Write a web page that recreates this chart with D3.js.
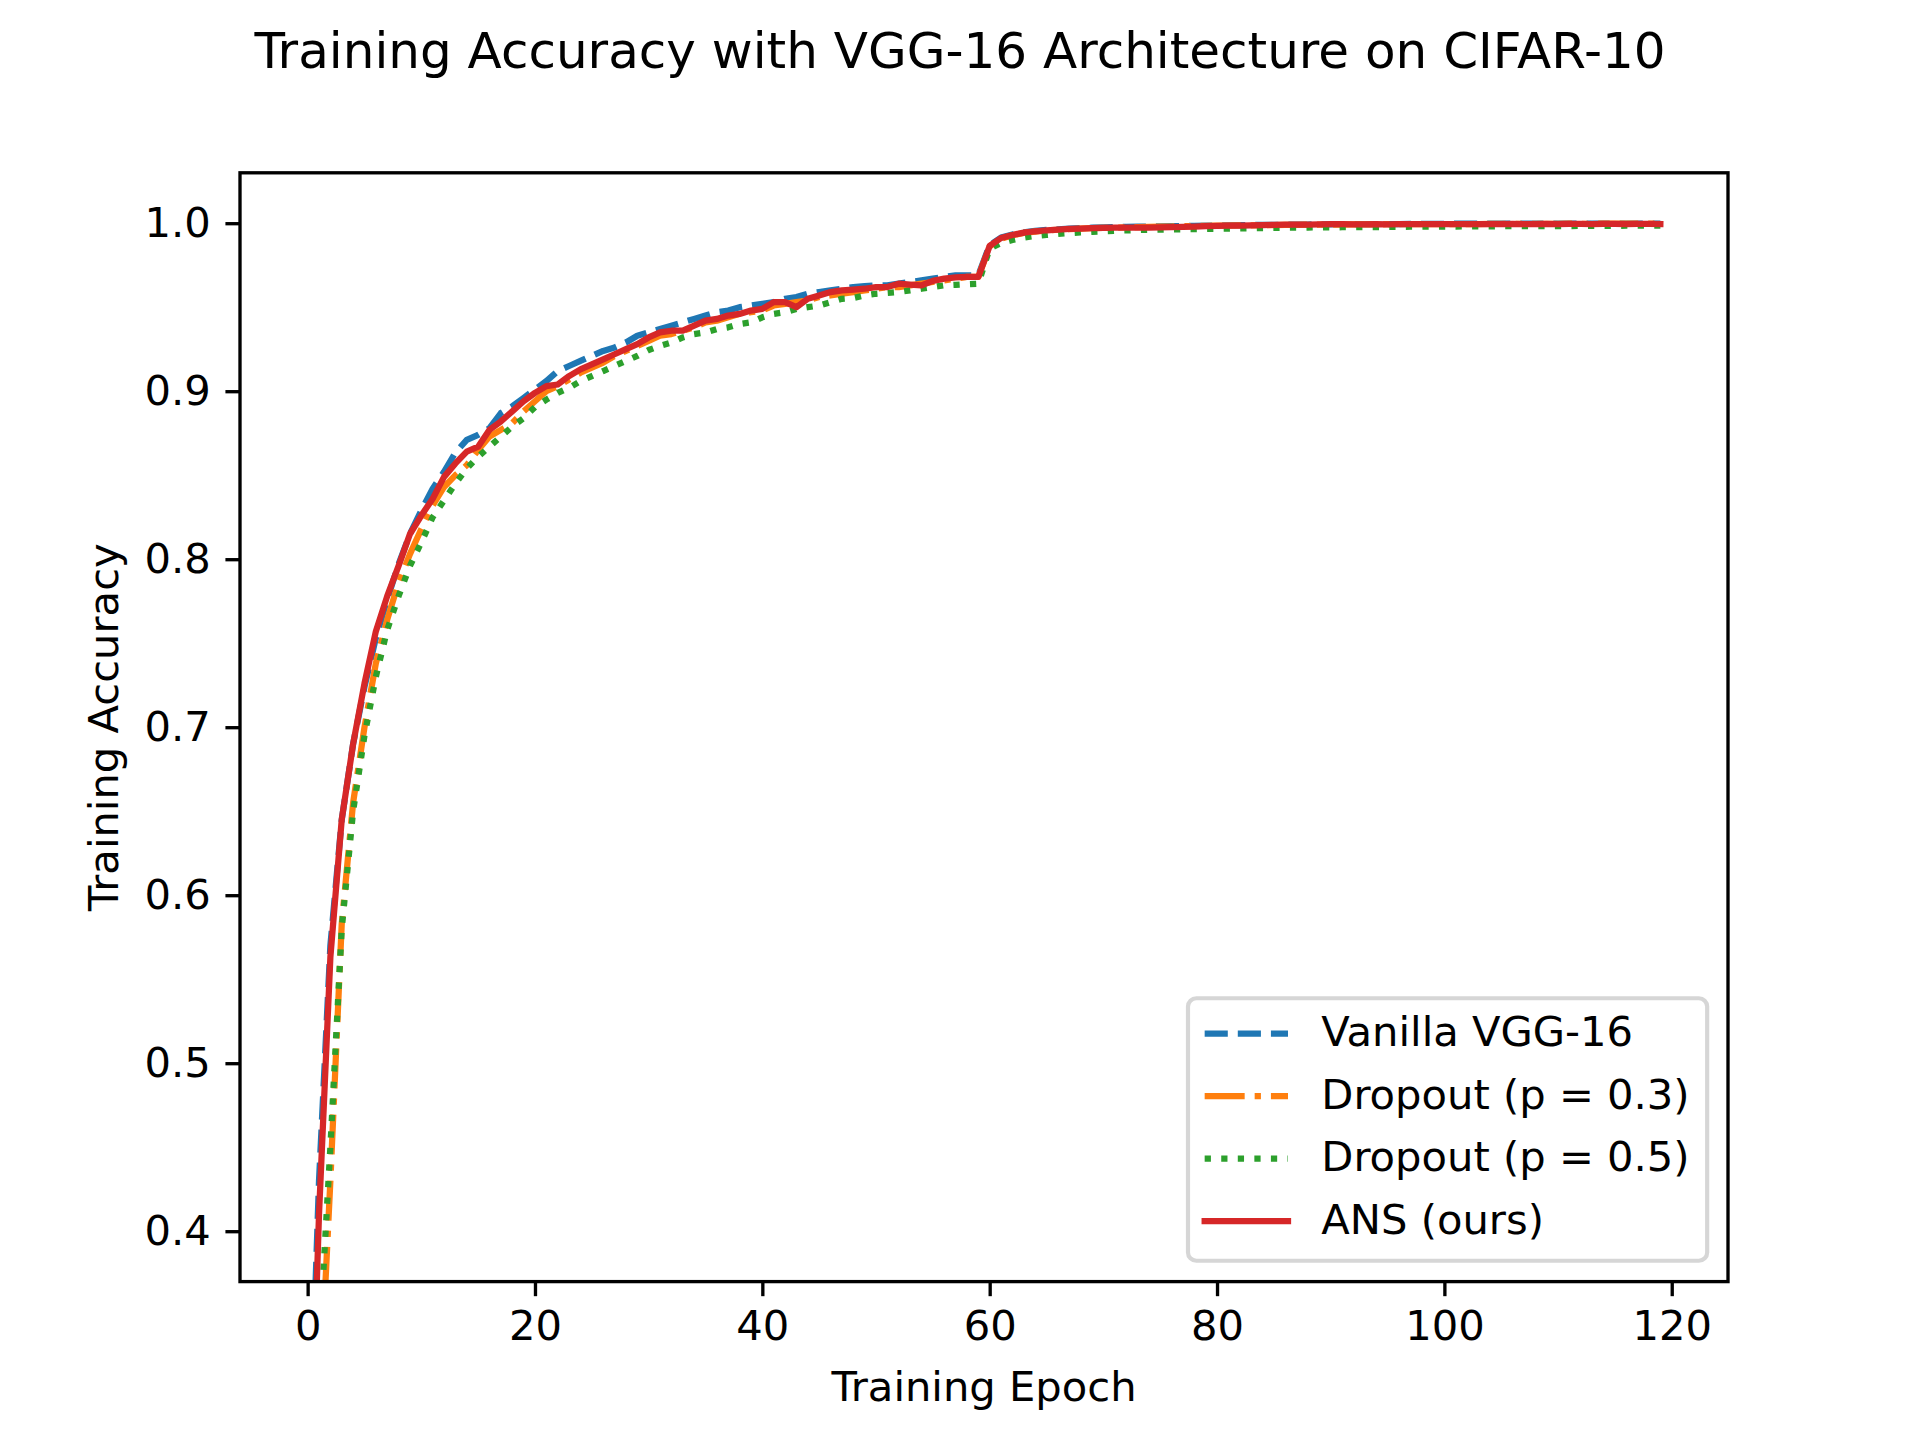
<!DOCTYPE html>
<html>
	<head>
		<title>Training Accuracy</title>
		<style>
			body, html { margin: 0; padding: 0; background: #fff; }
			text { font-family: "DejaVu Sans", sans-serif; }
		</style>
	</head>
	<body>

		<svg id="svg" width="1920" height="1440"></svg>

		<script src="https://d3js.org/d3.v7.min.js"></script>
		<script>
			// Training accuracy per epoch (epochs 0..119)
			const epochs = d3.range(0, 120)

			const vanilla = [
				0.230, 0.430, 0.570, 0.645, 0.690, 0.724, 0.753, 0.776, 0.797, 0.815,
				0.829, 0.842, 0.852, 0.8635, 0.871, 0.874, 0.878, 0.887, 0.891, 0.896,
				0.901, 0.906, 0.912, 0.915, 0.918, 0.921, 0.924, 0.926, 0.929, 0.933,
				0.935, 0.937, 0.939, 0.941, 0.943, 0.945, 0.947, 0.948, 0.950, 0.951,
				0.952, 0.953, 0.955, 0.956, 0.958, 0.959, 0.960, 0.961, 0.962, 0.9625,
				0.963, 0.963, 0.964, 0.965, 0.966, 0.967, 0.968, 0.969, 0.969, 0.969,
				0.987, 0.9915, 0.9933, 0.9946, 0.9955, 0.9960, 0.9964, 0.9968, 0.9971, 0.9973,
				0.9975, 0.9977, 0.9978, 0.9979, 0.9980, 0.9981, 0.9982, 0.9983, 0.9984, 0.9985,
				0.9986, 0.9987, 0.9988, 0.9989, 0.9990, 0.9990, 0.9991, 0.9992, 0.9992, 0.9993,
				0.9993, 0.9994, 0.9994, 0.9994, 0.9995, 0.9995, 0.9995, 0.9996, 0.9996, 0.9996,
				0.9996, 0.9997, 0.9997, 0.9997, 0.9997, 0.9997, 0.9997, 0.9998, 0.9998, 0.9997,
				0.9998, 0.9998, 0.9998, 0.9998, 0.9998, 0.9998, 0.9998, 0.9998, 0.9998, 0.9998
			]

			const dropout03 = [
				0.170, 0.290, 0.430, 0.583, 0.655, 0.700, 0.738, 0.764, 0.786, 0.803,
				0.818, 0.832, 0.843, 0.850, 0.856, 0.865, 0.873, 0.877, 0.881, 0.888,
				0.894, 0.900, 0.903, 0.907, 0.911, 0.914, 0.917, 0.921, 0.924, 0.927,
				0.930, 0.933, 0.934, 0.936, 0.938, 0.941, 0.942, 0.944, 0.946, 0.947,
				0.948, 0.951, 0.952, 0.953, 0.954, 0.956, 0.957, 0.958, 0.959, 0.960,
				0.961, 0.962, 0.962, 0.963, 0.964, 0.965, 0.966, 0.967, 0.968, 0.968,
				0.9862, 0.9908, 0.9928, 0.9942, 0.9950, 0.9956, 0.9961, 0.9964, 0.9967, 0.9970,
				0.9972, 0.9974, 0.9975, 0.9977, 0.9978, 0.9979, 0.9980, 0.9982, 0.9983, 0.9984,
				0.9985, 0.9986, 0.9987, 0.9987, 0.9988, 0.9989, 0.9990, 0.9990, 0.9991, 0.9991,
				0.9992, 0.9992, 0.9993, 0.9993, 0.9993, 0.9994, 0.9994, 0.9994, 0.9994, 0.9995,
				0.9995, 0.9995, 0.9995, 0.9995, 0.9996, 0.9996, 0.9996, 0.9996, 0.9996, 0.9996,
				0.9996, 0.9997, 0.9996, 0.9997, 0.9997, 0.9997, 0.9997, 0.9997, 0.9997, 0.9997
			]

			const dropout05 = [
				0.180, 0.330, 0.450, 0.580, 0.650, 0.695, 0.730, 0.758, 0.778, 0.796,
				0.810, 0.825, 0.835, 0.845, 0.854, 0.861, 0.867, 0.873, 0.879, 0.884,
				0.8905, 0.895, 0.899, 0.902, 0.906, 0.909, 0.912, 0.915, 0.918, 0.921,
				0.9245, 0.927, 0.929, 0.932, 0.934, 0.935, 0.937, 0.938, 0.940, 0.941,
				0.944, 0.946, 0.947, 0.949, 0.950, 0.951, 0.953, 0.955, 0.9555, 0.957,
				0.958, 0.9585, 0.959, 0.960, 0.961, 0.962, 0.963, 0.9633, 0.9637, 0.964,
				0.9850, 0.9882, 0.9900, 0.9914, 0.9924, 0.9930, 0.9936, 0.9941, 0.9945, 0.9949,
				0.9952, 0.9955, 0.9957, 0.9959, 0.9961, 0.9962, 0.9963, 0.9964, 0.9965, 0.9966,
				0.9967, 0.9968, 0.9969, 0.9970, 0.9971, 0.9972, 0.9973, 0.9973, 0.9974, 0.9975,
				0.9975, 0.9976, 0.9976, 0.9977, 0.9977, 0.9978, 0.9978, 0.9979, 0.9979, 0.9980,
				0.9980, 0.9980, 0.9981, 0.9981, 0.9981, 0.9982, 0.9982, 0.9982, 0.9983, 0.9983,
				0.9983, 0.9983, 0.9984, 0.9984, 0.9984, 0.9984, 0.9985, 0.9985, 0.9985, 0.9985
			]

			const ans = [
				0.200, 0.410, 0.563, 0.645, 0.690, 0.726, 0.757, 0.778, 0.796, 0.815,
				0.826, 0.836, 0.849, 0.857, 0.864, 0.867, 0.877, 0.882, 0.888, 0.894,
				0.899, 0.903, 0.904, 0.909, 0.913, 0.916, 0.919, 0.922, 0.925, 0.928,
				0.932, 0.935, 0.936, 0.936, 0.939, 0.942, 0.943, 0.945, 0.946, 0.948,
				0.949, 0.953, 0.953, 0.950, 0.955, 0.957, 0.959, 0.960, 0.9605, 0.961,
				0.962, 0.962, 0.964, 0.9635, 0.963, 0.9657, 0.967, 0.9677, 0.968, 0.968,
				0.9865, 0.9912, 0.9930, 0.9944, 0.9952, 0.9958, 0.9962, 0.9966, 0.9968, 0.9970,
				0.9972, 0.9973, 0.9974, 0.9973, 0.9974, 0.9975, 0.9977, 0.9978, 0.9980, 0.9982,
				0.9984, 0.9985, 0.9986, 0.9987, 0.9988, 0.9990, 0.9991, 0.9991, 0.9992, 0.9993,
				0.9994, 0.9995, 0.9993, 0.9993, 0.9994, 0.9993, 0.9994, 0.9994, 0.9995, 0.9994,
				0.9995, 0.9994, 0.9995, 0.9995, 0.9994, 0.9995, 0.9996, 0.9995, 0.9995, 0.9996,
				0.9995, 0.9996, 0.9996, 0.9995, 0.9996, 0.9996, 0.9995, 0.9996, 0.9996, 0.9995
			]

			const seriesNames = ['Vanilla VGG-16', 'Dropout (p = 0.3)', 'Dropout (p = 0.5)', 'ANS (ours)']
			const seriesValues = [vanilla, dropout03, dropout05, ans]
			const xTicks = [0, 20, 40, 60, 80, 100, 120]
			const yTicks = [0.4, 0.5, 0.6, 0.7, 0.8, 0.9, 1.0]

			// matplotlib look at 300 dpi: 1pt = 300/72 px
			const pt = 300 / 72
			const fs = 10 * pt
			const lw = 1.5 * pt
			const colors = ['#1f77b4', '#ff7f0e', '#2ca02c', '#d62728']
			const dashes = [
				[3.7 * lw, 1.6 * lw],
				[6.4 * lw, 1.6 * lw, 1 * lw, 1.6 * lw],
				[1 * lw, 1.65 * lw],
				null
			]

			const W = 1920, H = 1440
			const axLeft = 0.125 * W, axRight = 0.9 * W
			const axTop = (1 - 0.88) * H, axBottom = (1 - 0.11) * H

			const x = d3.scaleLinear().domain([-5.95, 124.95]).range([axLeft, axRight])
			const y = d3.scaleLinear().domain([0.37, 1.03]).range([axBottom, axTop])

			const svg = d3.select('#svg')

			svg.append('rect')
				.attr('width', W).attr('height', H).attr('fill', '#fff')

			svg.append('defs').append('clipPath')
				.attr('id', 'clip')
				.append('rect')
				.attr('x', axLeft).attr('y', axTop)
				.attr('width', axRight - axLeft).attr('height', axBottom - axTop)

			// lines
			const line = d3.line()
				.x((d, i) => x(epochs[i]))
				.y(d => y(d))

			svg.append('g')
				.attr('clip-path', 'url(#clip)')
				.selectAll('path')
				.data(seriesValues)
				.enter()
				.append('path')
				.attr('d', line)
				.attr('fill', 'none')
				.attr('stroke', (d, i) => colors[i])
				.attr('stroke-width', lw)
				.attr('stroke-linejoin', 'round')
				.attr('stroke-linecap', (d, i) => dashes[i] ? 'butt' : 'square')
				.attr('stroke-dasharray', (d, i) => dashes[i] ? dashes[i].join(',') : null)

			// axes
			const tickLen = 3.5 * pt
			const xAxis = d3.axisBottom(x)
				.tickValues(xTicks)
				.tickFormat(d3.format('d'))
				.tickSize(tickLen)
				.tickPadding(3.5 * pt)
				.tickSizeOuter(0)
			const yAxis = d3.axisLeft(y)
				.tickValues(yTicks)
				.tickFormat(d3.format('.1f'))
				.tickSize(tickLen)
				.tickPadding(3.5 * pt)
				.tickSizeOuter(0)

			const gx = svg.append('g')
				.attr('transform', `translate(0, ${axBottom})`)
				.call(xAxis)
			const gy = svg.append('g')
				.attr('transform', `translate(${axLeft}, 0)`)
				.call(yAxis)

			for (const g of [gx, gy]) {
				g.select('.domain').remove()
				g.selectAll('line').attr('stroke', '#000').attr('stroke-width', 0.8 * pt)
				g.selectAll('text')
					.attr('font-size', fs)
					.attr('font-family', 'DejaVu Sans')
					.attr('fill', '#000')
			}

			// spines
			svg.append('rect')
				.attr('x', axLeft).attr('y', axTop)
				.attr('width', axRight - axLeft).attr('height', axBottom - axTop)
				.attr('fill', 'none')
				.attr('stroke', '#000')
				.attr('stroke-width', 0.8 * pt)
				.attr('stroke-linejoin', 'miter')

			// labels
			svg.append('text')
				.attr('x', (axLeft + axRight) / 2)
				.attr('y', 1401)
				.attr('text-anchor', 'middle')
				.attr('font-size', fs)
				.text('Training Epoch')

			svg.append('text')
				.attr('transform', `translate(118, ${(axTop + axBottom) / 2}) rotate(-90)`)
				.attr('text-anchor', 'middle')
				.attr('font-size', fs)
				.text('Training Accuracy')

			svg.append('text')
				.attr('x', W / 2)
				.attr('y', 67.5)
				.attr('text-anchor', 'middle')
				.attr('font-size', 12 * pt)
				.text('Training Accuracy with VGG-16 Architecture on CIFAR-10')

			// legend, lower right
			const legW = 12.46 * fs, legH = 6.3 * fs
			const legX = axRight - 0.5 * fs - legW
			const legY = axBottom - 0.5 * fs - legH
			const legend = svg.append('g')

			legend.append('rect')
				.attr('x', legX).attr('y', legY)
				.attr('width', legW).attr('height', legH)
				.attr('rx', 0.2 * fs).attr('ry', 0.2 * fs)
				.attr('fill', 'rgba(255,255,255,0.8)')
				.attr('stroke', 'rgba(204,204,204,0.8)')
				.attr('stroke-width', 1 * pt)

			const rows = legend.selectAll('g.row')
				.data(seriesNames)
				.enter()
				.append('g')
				.attr('class', 'row')
				.attr('transform', (d, i) => `translate(${legX + 0.4 * fs}, ${legY + 0.85 * fs + i * 1.5 * fs})`)

			rows.append('line')
				.attr('x1', 0).attr('x2', 2 * fs)
				.attr('y1', 0).attr('y2', 0)
				.attr('stroke', (d, i) => colors[i])
				.attr('stroke-width', lw)
				.attr('stroke-linecap', (d, i) => dashes[i] ? 'butt' : 'square')
				.attr('stroke-dasharray', (d, i) => dashes[i] ? dashes[i].join(',') : null)

			rows.append('text')
				.attr('x', 2.8 * fs)
				.attr('y', 0.3 * fs)
				.attr('font-size', fs)
				.text(d => d)
		</script>
	</body>
</html>
